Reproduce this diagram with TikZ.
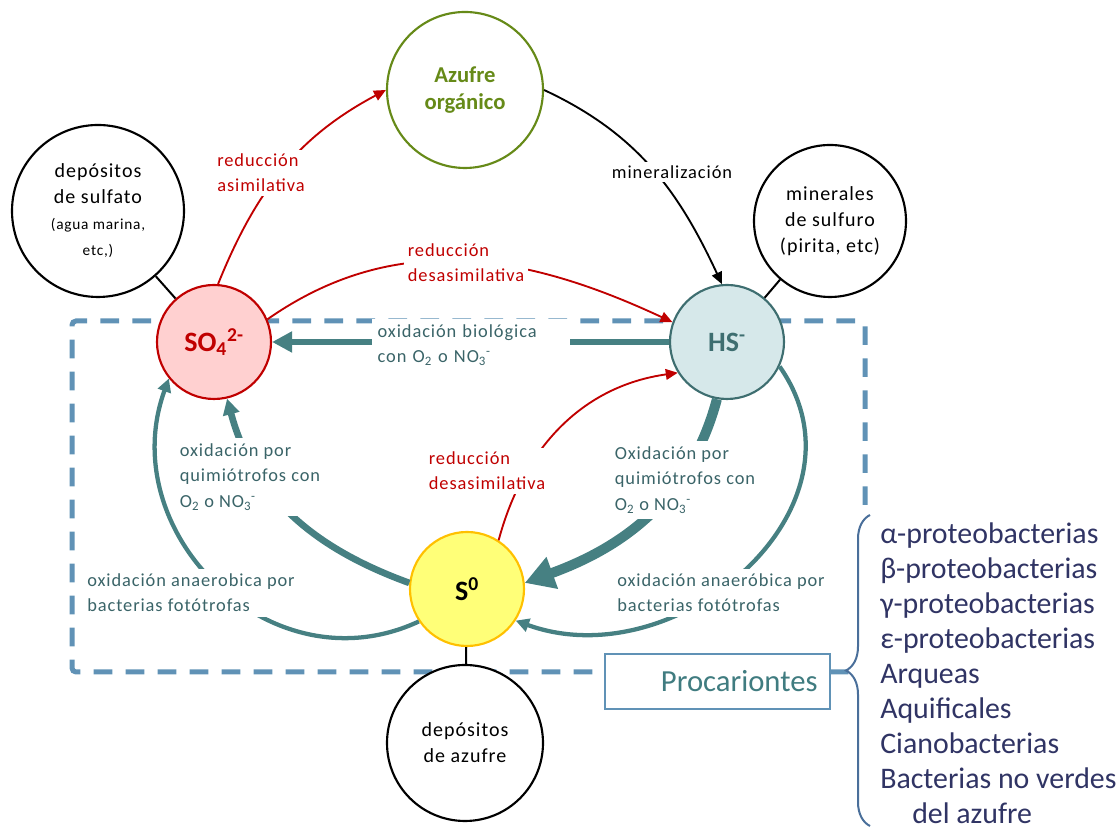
\documentclass[tikz,border=0pt]{standalone}
\usepackage{fontspec}
\setmainfont{Carlito}
\newfontfamily\spaced[LetterSpace=5]{Carlito}
\usetikzlibrary{arrows.meta,decorations.pathreplacing}
\definecolor{sulfred}{RGB}{192,0,0}
\definecolor{sulfpink}{RGB}{255,208,208}
\definecolor{orggreen}{RGB}{102,138,24}
\definecolor{hsteal}{RGB}{62,110,112}
\definecolor{hsfill}{RGB}{214,232,234}
\definecolor{arrteal}{RGB}{70,128,130}
\definecolor{txtteal}{RGB}{58,100,104}
\definecolor{sfill}{RGB}{255,255,120}
\definecolor{sgold}{RGB}{255,192,0}
\definecolor{boxblue}{RGB}{96,146,182}
\definecolor{bracblue}{RGB}{74,111,154}
\definecolor{listnavy}{RGB}{48,52,100}
\definecolor{proctxt}{RGB}{64,124,128}
\newcommand{\lblfont}{\spaced\fontsize{13.8}{19}\selectfont}
\newcommand{\oxnit}{O\textsubscript{2} o NO\textsubscript{3}\textsuperscript{-}}

\begin{document}
\begin{tikzpicture}[x=0.75pt,y=0.75pt]
\tikzstyle{pool}=[circle, draw, line width=1.6pt, inner sep=0pt, align=center, fill=white]
\tikzstyle{deposit}=[pool, font=\spaced\fontsize{15}{19.5}\selectfont]
\tikzstyle{ion}=[pool, minimum size=85.5pt, font=\bfseries\fontsize{21}{24}\selectfont]
\tikzstyle{link}=[line width=1.5pt]
\tikzstyle{blkarr}=[-{Triangle[length=9pt,width=8pt]}, line width=1.4pt]
\tikzstyle{redarr}=[-{Triangle[length=9pt,width=8pt]}, draw=sulfred, line width=1.4pt]
\tikzstyle{oxbig}=[-{Triangle[length=15pt,width=15pt]}, draw=arrteal, line width=5pt]
\tikzstyle{oxmid}=[-{Triangle[length=12pt,width=12pt]}, draw=arrteal, line width=5pt]
\tikzstyle{oxfat}=[-{Triangle[length=22pt,width=24pt]}, draw=arrteal, line width=7.5pt]
\tikzstyle{oxarc}=[-{Triangle[length=10pt,width=10pt]}, draw=arrteal, line width=3.2pt]
\tikzstyle{redlbl}=[text=sulfred, fill=white, align=left, font=\lblfont, inner sep=3pt]
\tikzstyle{oxlbl}=[text=txtteal, fill=white, align=left, font=\lblfont, inner sep=4pt]
\tikzstyle{frame}=[draw=boxblue, line width=3.75pt, dash pattern=on 14pt off 10pt, rounded corners=3pt]
\tikzstyle{procbox}=[draw=boxblue, line width=1.5pt, fill=white, text=proctxt, text width=150pt, align=right, inner xsep=9.4pt, minimum height=41.25pt, font=\fontsize{23}{26}\selectfont]
\tikzstyle{grpbrace}=[draw=bracblue, line width=1.5pt, decorate, decoration={brace, amplitude=18pt}]
\tikzstyle{grplist}=[anchor=base west, text=listnavy, inner sep=0pt, font=\fontsize{22.4}{26}\selectfont]
\useasboundingbox (0,0) rectangle (1118,830);

% procesos de procariontes
\draw[frame] (865,325) -- (865,509) -- (72,509) -- (72,158) -- (858,158);

\node[pool, draw=orggreen, text=orggreen, minimum size=117pt, font=\bfseries\fontsize{17}{20}\selectfont] (azufre) at (465,740) {Azufre\\orgánico};
\node[deposit, minimum size=129pt] (dsulf) at (98,619) {depósitos\\de sulfato\\{\fontsize{11.5}{15}\selectfont (agua marina,}\\{\fontsize{11.5}{15}\selectfont etc,)}};
\node[deposit, minimum size=114pt] (mins) at (830,609) {minerales\\de sulfuro\\(pirita, etc)};
\node[deposit, minimum size=117pt] (dazu) at (465,87) {depósitos\\de azufre};
\node[ion, draw=sulfred, fill=sulfpink, text=sulfred] (so4) at (214,488) {SO\textsubscript{4}\textsuperscript{2-}};
\node[ion, draw=hsteal, fill=hsfill, text=hsteal] (hs) at (727,488) {HS\textsuperscript{-}};
\node[ion, draw=sgold, fill=sfill] (s0) at (467,241) {S\textsuperscript{0}};

\draw[link] (dsulf) -- (so4);
\draw[link] (mins) -- (hs);
\draw[link] (s0) -- (dazu);

\draw[blkarr] (azufre.east) to[out=-25,in=115] (hs.95);
\draw[redarr] (so4.86) to[out=68,in=208] (azufre.west);
\draw[redarr] (so4.23) to[out=35,in=155] (hs.160);
\draw[redarr] (s0.57) to[out=75,in=188] (hs.212);
\draw[oxbig] (hs.west) -- (so4.east);
\draw[oxmid] (s0.174) to[out=160,in=-75] (so4.-77);
\draw[oxfat] (hs.-100) to[out=-105,in=20] (s0.6);
\draw[oxarc] (s0.214) to[out=205,in=-110,looseness=1.2] (so4.219);
\draw[oxarc] (hs.-25) to[out=-55,in=-20,looseness=1.2] (s0.-33);

\node[redlbl] (lasim) at (261,657) {reducción\\asimilativa};
\node[redlbl] (ldes1) at (466,567) {reducción\\desasimilativa};
\node[redlbl] (ldes2) at (487,359) {reducción\\desasimilativa};
\node[fill=white, font=\lblfont, inner sep=3pt] (lmin) at (672,658) {mineralización};
\node[oxlbl, text width=140pt] (lbio) at (471,485) {oxidación biológica\\con \oxnit};
\node[oxlbl] (lquim1) at (250,353) {oxidación por\\quimiótrofos con\\\oxnit};
\node[oxlbl] (lquim2) at (685,350) {Oxidación por\\quimiótrofos con\\\oxnit};
\node[oxlbl] (lanae1) at (191,237) {oxidación anaerobica por\\bacterias fotótrofas};
\node[oxlbl] (lanae2) at (721,237) {oxidación anaeróbica por\\bacterias fotótrofas};

\node[procbox] (proc) at (717.5,148.5) {Procariontes};
\draw[grpbrace] (870,4) -- (870,315);
\foreach \grp [count=\i] in {α-proteobacterias, β-proteobacterias, γ-proteobacterias, ε-proteobacterias, Arqueas, Aquificales, Cianobacterias, Bacterias no verdes, \hspace*{24pt}del azufre}
  \node[grplist] (grp\i) at (880,{286-(\i-1)*35}) {\grp};
\end{tikzpicture}
\end{document}
